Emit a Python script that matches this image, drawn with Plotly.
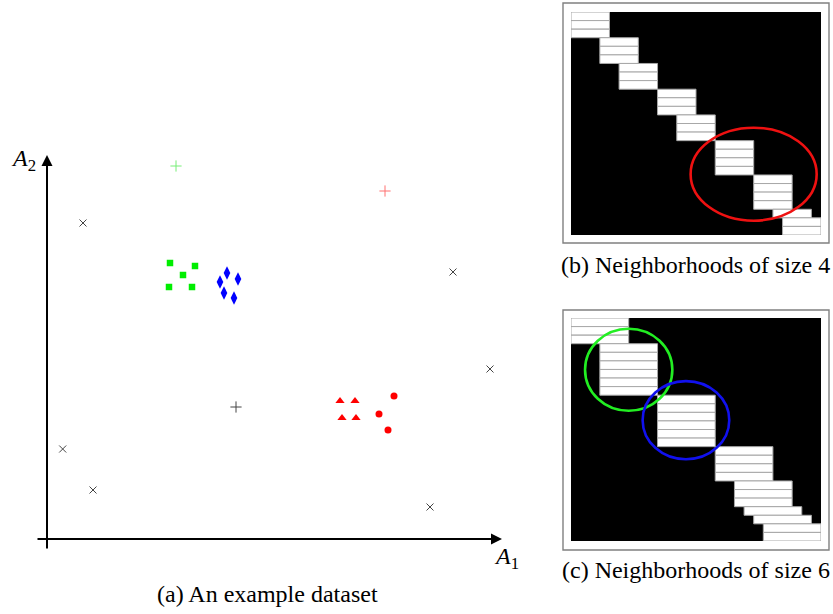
import plotly.graph_objects as go

# ---------------- data: panel (a) example dataset ----------------
noise_x_x = [3.6, 40.6, 44.3, 1.57, 4.6, 38.3]
noise_x_y = [31.6, 26.7, 17.0, 9.0, 4.9, 3.2]
noise_plus_x = [18.9]
noise_plus_y = [13.2]
green_plus_x = [12.9]
green_plus_y = [37.3]
red_plus_x = [33.8]
red_plus_y = [34.8]
green_sq_x = [12.3, 14.8, 13.6, 12.2, 14.5]
green_sq_y = [27.6, 27.3, 26.4, 25.2, 25.2]
blue_dia_x = [18.0, 19.1, 17.3, 17.7, 18.7]
blue_dia_y = [26.6, 26.0, 25.7, 24.6, 24.1]
red_tri_x = [29.3, 30.8, 29.5, 30.9]
red_tri_y = [13.8, 13.8, 12.1, 12.1]
red_circ_x = [34.7, 33.2, 34.1]
red_circ_y = [14.3, 12.5, 10.9]

# ---------------- data: neighbourhood matrices ----------------
n_points = 26
k_b = 4
starts_b = [0, 0, 0, 3, 3, 3, 5, 5, 5, 9, 9, 9, 11, 11, 11,
            15, 15, 15, 15, 19, 19, 19, 19, 21, 22, 22]
k_c = 6
starts_c = [0, 0, 0, 3, 3, 3, 3, 3, 3, 9, 9, 9, 9, 9, 9,
            15, 15, 15, 15, 17, 17, 17, 18, 19, 20, 20]

# highlighted neighbourhoods: (x0, x1, y0, y1) in matrix units
ellipse_b = [(12.44, 25.55, 13.49, 24.33, "#ee1111")]
ellipses_c = [(1.46, 10.54, 1.25, 10.82, "#22ee22"),
              (7.45, 16.46, 7.36, 16.47, "#1111ee")]

captions = ["(a) An example dataset", "(b) Neighborhoods of size 4",
            "(c) Neighborhoods of size 6"]

W, H = 833, 614
SERIF = "Liberation Serif, Times New Roman, serif"


def px(x):
    return x / W


def py(y):
    return (H - y) / H


fig = go.Figure()


def scat(xs, ys, symbol, color, size, line_w=0, line_c=None):
    mk = dict(symbol=symbol, color=color, size=size)
    if line_w:
        mk["line"] = dict(width=line_w, color=line_c or color)
    fig.add_trace(go.Scatter(x=xs, y=ys, mode="markers", marker=mk,
                             xaxis="x", yaxis="y", hoverinfo="skip",
                             cliponaxis=False))


# panel (a)
scat(noise_x_x, noise_x_y, "x-thin", "#444", 7, 1, "#444")
scat(noise_plus_x, noise_plus_y, "cross-thin", "#444", 8, 1, "#444")
scat(green_plus_x, green_plus_y, "cross-thin", "#77ee77", 8, 1, "#77ee77")
scat(red_plus_x, red_plus_y, "cross-thin", "#ff7070", 8, 1, "#ff7070")
scat(green_sq_x, green_sq_y, "square", "#00ee00", 6.5)
scat(blue_dia_x, blue_dia_y, "diamond-tall", "#0000ff", 9.5)
scat(red_tri_x, red_tri_y, "triangle-up", "#ff0000", 8)
scat(red_circ_x, red_circ_y, "circle", "#ff0000", 7)

# panels (b) and (c): each row = one point, white span = its neighbourhood
rows = [i + 0.5 for i in range(n_points)]
for starts, k, xa, ya in [(starts_b, k_b, "x2", "y2"), (starts_c, k_c, "x3", "y3")]:
    fig.add_trace(go.Bar(orientation="h", y=rows, x=[k] * n_points, base=starts,
                         width=1, marker=dict(color="white",
                                              line=dict(color="#a8a8a8", width=1)),
                         xaxis=xa, yaxis=ya, hoverinfo="skip"))

shapes = []
for xa, ya in [("x2", "y2"), ("x3", "y3")]:
    shapes.append(dict(type="rect", xref=xa, yref=ya, x0=0, x1=n_points, y0=0,
                       y1=n_points, fillcolor="black", line=dict(width=0),
                       layer="below"))
for (x0, x1, y0, y1, c) in ellipse_b:
    shapes.append(dict(type="circle", xref="x2", yref="y2", x0=x0, x1=x1,
                       y0=y0, y1=y1, line=dict(color=c, width=2.6)))
for (x0, x1, y0, y1, c) in ellipses_c:
    shapes.append(dict(type="circle", xref="x3", yref="y3", x0=x0, x1=x1,
                       y0=y0, y1=y1, line=dict(color=c, width=2.6)))
# frames around matrices
for (l, t, r, b) in [(563, 3, 829, 243), (563, 310, 829, 550)]:
    shapes.append(dict(type="rect", xref="paper", yref="paper", x0=px(l), x1=px(r),
                       y0=py(b), y1=py(t), line=dict(color="#808080", width=1.4),
                       fillcolor="rgba(0,0,0,0)"))

annotations = []
# axis arrows for panel (a)
X_MIN, X_MAX = -1.1, 45.5
Y_MIN, Y_MAX = -1.1, 38.4
annotations.append(dict(x=X_MAX, y=0, ax=X_MIN, ay=0, xref="x", yref="y",
                        axref="x", ayref="y", text="", showarrow=True,
                        arrowhead=2, arrowsize=1.1, arrowwidth=2, arrowcolor="black"))
annotations.append(dict(x=0, y=Y_MAX, ax=0, ay=Y_MIN, xref="x", yref="y",
                        axref="x", ayref="y", text="", showarrow=True,
                        arrowhead=2, arrowsize=1.1, arrowwidth=2, arrowcolor="black"))
annotations.append(dict(x=px(23), y=py(160), xref="paper", yref="paper",
                        xanchor="center", yanchor="middle",
                        text="<i>A</i><sub>2</sub>", showarrow=False,
                        font=dict(family=SERIF, size=24, color="black")))
annotations.append(dict(x=px(506), y=py(558), xref="paper", yref="paper",
                        xanchor="center", yanchor="middle",
                        text="<i>A</i><sub>1</sub>", showarrow=False,
                        font=dict(family=SERIF, size=24, color="black")))
# captions
for text, cx, cy in zip(captions, [267.5, 695.5, 695.5], [593.5, 264.7, 569.7]):
    annotations.append(dict(x=px(cx), y=py(cy), xref="paper", yref="paper",
                            text=text, showarrow=False, xanchor="center",
                            yanchor="middle",
                            font=dict(family=SERIF, size=24, color="black")))

hidden = dict(showgrid=False, zeroline=False, showticklabels=False, ticks="",
              showline=False, fixedrange=True)

fig.update_layout(
    width=W, height=H, margin=dict(l=0, r=0, t=0, b=0),
    paper_bgcolor="white", plot_bgcolor="white", showlegend=False,
    bargap=0,
    xaxis=dict(domain=[px(36), px(502)], range=[X_MIN, X_MAX], anchor="y", **hidden),
    yaxis=dict(domain=[py(550), py(155)], range=[Y_MIN, Y_MAX], anchor="x", **hidden),
    xaxis2=dict(domain=[px(571), px(821)], range=[0, n_points], anchor="y2", **hidden),
    yaxis2=dict(domain=[py(235), py(12)], range=[n_points, 0], anchor="x2", **hidden),
    xaxis3=dict(domain=[px(571), px(821)], range=[0, n_points], anchor="y3", **hidden),
    yaxis3=dict(domain=[py(541), py(318)], range=[n_points, 0], anchor="x3", **hidden),
    shapes=shapes, annotations=annotations,
)

# remove the default 8px page margin so the figure fills the window exactly
fig.write_html(
    "out.html",
    config={"staticPlot": True},
    post_script="document.body.style.margin='0';"
                "document.body.style.overflow='hidden';"
                "document.documentElement.style.overflow='hidden';",
)
